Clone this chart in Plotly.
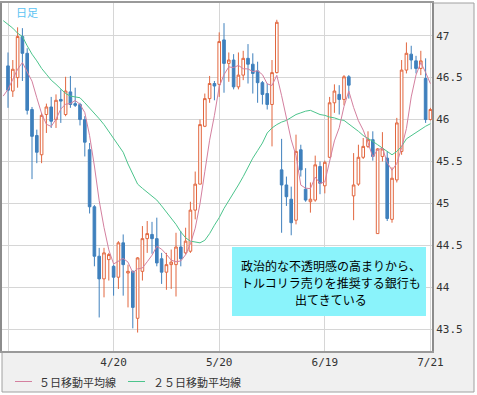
import plotly.graph_objects as go
import pandas as pd

# ---------------- data ----------------
# trading days; first entry (3/18) only carries moving-average values
dates = [f"{d.month}/{d.day}" for d in pd.bdate_range("2015-03-18", "2015-07-21")]
candle_dates = dates[1:]

opens = [46.64, 46.34, 46.50, 46.99, 46.79, 46.12, 45.81, 45.58, 46.06, 46.15,
         46.00, 46.24, 46.06, 46.33, 46.19, 46.18, 46.00, 45.64, 44.96, 44.37,
         44.10, 44.33, 44.25, 44.12, 44.53, 44.17, 44.19, 43.63, 44.19, 44.58,
         44.63, 44.58, 44.34, 44.18, 44.27, 44.27, 44.48, 44.41, 44.43, 44.92,
         45.23, 45.92, 46.25, 46.43, 46.42, 46.95, 46.67, 46.71, 46.39, 46.53,
         46.73, 46.66, 46.58, 46.44, 46.31, 46.18, 46.56, 45.40, 45.22, 45.05,
         44.80, 45.64, 45.17, 45.02, 45.04, 45.44, 45.21, 45.55, 46.20, 46.30,
         46.24, 46.51, 45.09, 45.23, 45.55, 45.68, 45.76, 44.64, 45.56, 45.54,
         44.81, 45.28, 45.62, 46.59, 46.78, 46.70, 46.61, 46.49, 46.00]
highs = [46.80, 46.71, 47.10, 47.09, 46.85, 46.15, 45.88, 46.08, 46.19, 46.27,
         46.30, 46.36, 46.51, 46.52, 46.38, 46.20, 46.04, 45.72, 44.98, 44.47,
         44.47, 44.41, 44.27, 44.55, 44.63, 44.27, 44.20, 44.36, 44.73, 44.79,
         44.78, 44.83, 44.41, 44.41, 44.45, 44.65, 44.67, 44.71, 45.02, 45.38,
         46.00, 46.31, 46.52, 46.46, 47.04, 47.15, 46.80, 46.78, 46.80, 46.82,
         46.90, 46.79, 46.69, 46.46, 46.43, 46.71, 47.19, 45.77, 45.32, 45.20,
         45.82, 45.70, 45.42, 45.25, 45.57, 45.50, 45.51, 46.27, 46.42, 46.41,
         46.53, 46.53, 45.60, 45.70, 45.78, 45.86, 45.86, 45.66, 45.85, 45.62,
         45.43, 46.02, 46.71, 46.92, 46.88, 46.76, 46.82, 46.73, 46.14]
lows = [46.14, 46.27, 46.38, 46.46, 46.06, 45.29, 45.48, 45.48, 45.84, 45.90,
        45.90, 45.96, 46.04, 46.14, 46.15, 45.93, 45.56, 44.88, 44.25, 43.64,
        43.88, 44.08, 43.90, 43.98, 43.90, 43.76, 43.51, 43.46, 44.08, 44.41,
        44.40, 44.25, 44.04, 43.97, 43.98, 43.89, 44.25, 44.39, 44.41, 44.81,
        45.23, 45.91, 46.20, 46.23, 46.27, 46.32, 46.45, 46.36, 46.36, 46.47,
        46.43, 46.31, 46.20, 46.18, 46.12, 45.68, 46.55, 44.65, 44.97, 44.62,
        44.75, 45.32, 45.02, 44.89, 45.02, 45.11, 45.12, 45.54, 46.08, 46.06,
        46.17, 46.25, 44.80, 45.21, 45.53, 45.66, 45.51, 44.64, 45.50, 44.79,
        44.77, 45.25, 45.58, 46.55, 46.60, 46.55, 46.53, 45.96, 45.99]
closes = [46.35, 46.60, 46.99, 46.79, 46.11, 45.80, 45.61, 46.05, 46.15, 45.98,
          46.23, 46.22, 46.34, 46.18, 46.17, 46.00, 45.73, 44.96, 44.37, 44.10,
          44.41, 44.39, 44.12, 44.53, 44.27, 44.19, 43.76, 44.35, 44.58, 44.64,
          44.58, 44.29, 44.18, 44.27, 44.30, 44.48, 44.34, 44.55, 44.92, 45.23,
          45.94, 46.25, 46.43, 46.40, 46.93, 46.67, 46.71, 46.39, 46.53, 46.73,
          46.66, 46.55, 46.44, 46.30, 46.18, 46.56, 47.16, 45.22, 45.08, 44.77,
          45.62, 45.40, 45.04, 45.05, 45.46, 45.24, 45.49, 46.20, 46.34, 46.24,
          46.51, 46.41, 45.22, 45.55, 45.68, 45.76, 45.56, 45.65, 45.65, 44.82,
          45.30, 45.96, 46.59, 46.79, 46.71, 46.61, 46.70, 46.00, 46.12]
# closes of the five days before the visible window (for the 5-day average)
prior_closes = [45.95, 46.00, 46.39, 46.39, 46.67]

# 25-day moving average as drawn (3/18 .. 7/21)
ma25 = [47.18, 47.14, 47.09, 47.03, 46.99, 46.88, 46.78, 46.70, 46.61, 46.54, 46.47,
        46.42, 46.36, 46.31, 46.28, 46.27, 46.26, 46.20, 46.14, 46.08, 46.01,
        45.94, 45.86, 45.78, 45.70, 45.61, 45.47, 45.34, 45.23, 45.18, 45.13,
        45.08, 45.04, 44.97, 44.90, 44.83, 44.75, 44.66, 44.59, 44.55, 44.54,
        44.53, 44.56, 44.64, 44.74, 44.83, 44.94, 45.03, 45.12, 45.22, 45.32,
        45.43, 45.54, 45.63, 45.72, 45.84, 45.90, 45.94, 45.97, 45.99, 46.03,
        46.06, 46.08, 46.10, 46.11, 46.08, 46.06, 46.05, 46.03, 46.02, 46.00,
        45.99, 45.95, 45.90, 45.86, 45.81, 45.78, 45.74, 45.70, 45.66, 45.62,
        45.58, 45.62, 45.68, 45.77, 45.81, 45.85, 45.89, 45.92, 45.95]

tick_dates = ["3/19", "4/20", "5/20", "6/19", "7/21"]
tick_texts = ["", "4/20", "5/20", "6/19", "7/21"]
y_ticks = [43.5, 44, 44.5, 45, 45.5, 46, 46.5, 47]

legend_ma5 = "５日移動平均線"
legend_ma25 = "２５日移動平均線"
label_daily = "日足"
note_lines = ["政治的な不透明感の高まりから、",
              "トルコリラ売りを推奨する銀行も",
              "出てきている"]

# 5-day moving average from the closes
ma5 = pd.Series(prior_closes + closes).rolling(5).mean().iloc[4:].tolist()

# ---------------- layout geometry (pixels) ----------------
W, H = 477, 395
PL, PR, PT, PB = 2, 432, 3, 351
PW, PH = PR - PL, PB - PT


def px(x):
    return (x - PL) / PW


def py(y):
    return (PB - y) / PH


RED = "#e2673f"
BLUE = "#3f80bd"
PINK = "#d4809f"
GREEN = "#4cc48c"
MONO = "DejaVu Sans Mono, Liberation Mono, monospace"
JP = "Noto Sans CJK JP, Noto Sans, sans-serif"

fig = go.Figure()
fig.add_trace(go.Scatter(x=dates, y=ma25, mode="lines",
                         line=dict(color=GREEN, width=1), hoverinfo="skip",
                         showlegend=False))
fig.add_trace(go.Candlestick(
    x=candle_dates, open=opens, high=highs, low=lows, close=closes,
    increasing=dict(line=dict(color=RED, width=1), fillcolor="#ffffff"),
    decreasing=dict(line=dict(color=BLUE, width=1), fillcolor=BLUE),
    whiskerwidth=0, showlegend=False))
fig.add_trace(go.Scatter(x=dates, y=ma5, mode="lines",
                         line=dict(color=PINK, width=1), hoverinfo="skip",
                         showlegend=False))

shapes = [
    # outer frame / grey surround
    dict(type="rect", xref="paper", yref="paper", x0=px(2), x1=px(474),
         y0=py(392), y1=py(3), fillcolor="#f0f0f0",
         line=dict(color="#a0a0a0", width=1), layer="below"),
    # white plot area
    dict(type="rect", xref="paper", yref="paper", x0=0, x1=1, y0=0, y1=1,
         fillcolor="#ffffff", line=dict(width=0), layer="below"),
    # note box
    dict(type="rect", xref="paper", yref="paper", x0=px(232), x1=px(426),
         y0=py(316), y1=py(247), fillcolor="#8af3fb", line=dict(width=0),
         layer="above"),
    # legend keys
    dict(type="line", xref="paper", yref="paper", x0=px(15), x1=px(32),
         y0=py(381.5), y1=py(381.5), line=dict(color=PINK, width=1)),
    dict(type="line", xref="paper", yref="paper", x0=px(128), x1=px(145),
         y0=py(381.5), y1=py(381.5), line=dict(color=GREEN, width=1)),
]

annotations = [
    dict(text=label_daily, xref="paper", yref="paper", x=px(14), y=py(12),
         xanchor="left", yanchor="middle", showarrow=False,
         font=dict(family=JP, size=11, color="#5cc3f2")),
    dict(text=legend_ma5, xref="paper", yref="paper", x=px(37), y=py(381.5),
         xanchor="left", yanchor="middle", showarrow=False,
         font=dict(family=JP, size=11, color="#333333")),
    dict(text=legend_ma25, xref="paper", yref="paper", x=px(151), y=py(381.5),
         xanchor="left", yanchor="middle", showarrow=False,
         font=dict(family=JP, size=11, color="#333333")),
]
for line_text, yc in zip(note_lines, [265, 282, 299]):
    annotations.append(dict(text=line_text, xref="paper", yref="paper",
                            x=px(331), y=py(yc), xanchor="center",
                            yanchor="middle", showarrow=False,
                            font=dict(family=JP, size=12, color="#000000")))

fig.update_layout(
    template="none",
    width=W, height=H, autosize=False,
    margin=dict(l=PL, r=W - PR, t=PT, b=H - PB, pad=0),
    paper_bgcolor="#ffffff", plot_bgcolor="rgba(0,0,0,0)",
    showlegend=False, boxgap=0.22,
    shapes=shapes, annotations=annotations,
    xaxis=dict(type="category", categoryorder="array", categoryarray=dates,
               range=[-0.25, 89.33], tickvals=tick_dates, ticktext=tick_texts,
               showgrid=True, gridcolor="#d6d6d6", gridwidth=1,
               showline=True, linecolor="#9a9a9a", linewidth=2, mirror=True,
               ticks="", zeroline=False, automargin=False,
               rangeslider=dict(visible=False),
               tickfont=dict(family=MONO, size=11, color="#333333")),
    yaxis=dict(side="right", range=[43.24, 47.39], tickvals=y_ticks,
               showgrid=True, gridcolor="#d6d6d6", gridwidth=1,
               showline=True, linecolor="#8c8c8c", linewidth=2, mirror=True,
               ticks="", zeroline=False, automargin=False,
               tickfont=dict(family=MONO, size=11, color="#333333")),
)

fig.write_html("out.html",
               config={"displayModeBar": False},
               post_script="document.body.style.margin='0px';"
                           "document.body.style.padding='0px';")
